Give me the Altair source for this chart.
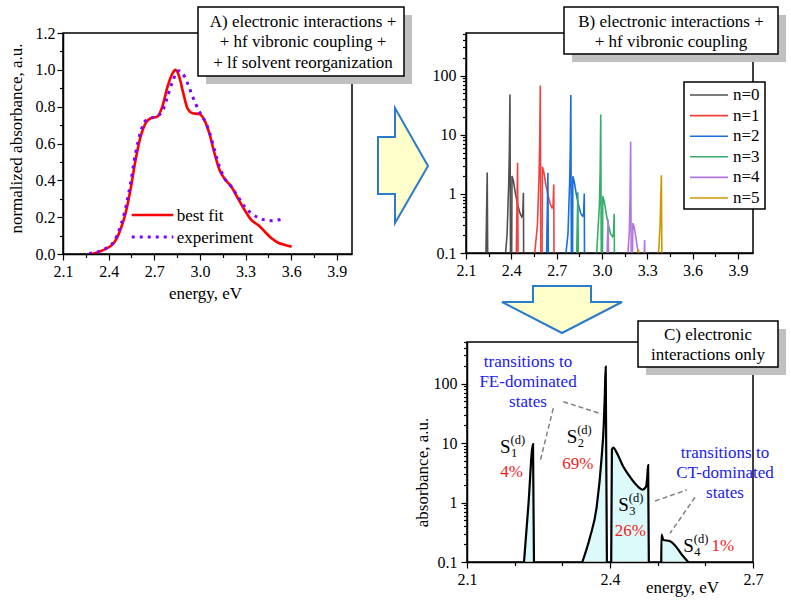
import altair as alt
import pandas as pd

FONT = "Liberation Serif"
W, H = 791, 605

# ---------------- Panel A: normalized absorbance ----------------
fit_E = [2.29, 2.367, 2.433, 2.477, 2.511, 2.544, 2.577, 2.610, 2.643, 2.676, 2.720, 2.753,
         2.787, 2.820, 2.840, 2.864, 2.886, 2.919, 2.952, 2.996, 3.029, 3.062, 3.096, 3.129,
         3.162, 3.206, 3.250, 3.294, 3.338, 3.383, 3.427, 3.471, 3.515, 3.559, 3.603]
fit_v = [0.0, 0.022, 0.058, 0.13, 0.22, 0.35, 0.51, 0.637, 0.71, 0.737, 0.746, 0.80,
         0.908, 0.981, 1.0, 0.963, 0.89, 0.79, 0.764, 0.76, 0.728, 0.655, 0.547, 0.456,
         0.41, 0.366, 0.302, 0.239, 0.185, 0.157, 0.121, 0.085, 0.061, 0.049, 0.04]
exp_E = [2.272, 2.367, 2.433, 2.477, 2.511, 2.544, 2.577, 2.610, 2.643, 2.676, 2.720, 2.753,
         2.787, 2.820, 2.842, 2.864, 2.886, 2.919, 2.952, 2.996, 3.029, 3.062, 3.096, 3.129,
         3.162, 3.206, 3.250, 3.294, 3.338, 3.383, 3.427, 3.471, 3.515, 3.537]
exp_v = [0.003, 0.025, 0.065, 0.148, 0.248, 0.384, 0.547, 0.664, 0.724, 0.737, 0.75, 0.774,
         0.855, 0.936, 0.977, 0.995, 0.981, 0.927, 0.855, 0.774, 0.728, 0.664, 0.565, 0.474,
         0.411, 0.366, 0.312, 0.257, 0.221, 0.198, 0.185, 0.181, 0.185, 0.189]

# ---------------- Panel B: vibronic progression (E, absorbance) ----------------
series_labels = ["n=0", "n=1", "n=2", "n=3", "n=4", "n=5"]
series_colors = ["#515151", "#F14040", "#1A6FDF", "#37AD6B", "#B177DE", "#CC9900"]
n0_segments = [
    [(2.232, 0.1), (2.2405, 2.3), (2.2435, 0.1)],
    [(2.362, 0.1), (2.372, 0.21), (2.3826, 1.45), (2.387, 5.2), (2.391, 48), (2.3945, 0.1)],
    [(2.4025, 0.1), (2.4045, 2.0), (2.414, 1.65), (2.428, 0.98), (2.442, 0.66), (2.456, 0.48),
     (2.4686, 0.41), (2.4755, 0.45), (2.480, 1.04), (2.4815, 0.1)],
]
n1_segments = [
    [(2.433, 0.1), (2.4415, 3.35), (2.4445, 0.1)],
    [(2.555, 0.1), (2.573, 0.3), (2.5836, 2.1), (2.588, 7.5), (2.592, 68), (2.5955, 0.1)],
    [(2.6035, 0.1), (2.6055, 2.87), (2.615, 2.35), (2.629, 1.4), (2.643, 0.95), (2.657, 0.68),
     (2.6696, 0.58), (2.6765, 0.64), (2.681, 1.44), (2.6825, 0.1)],
]
n2_segments = [
    [(2.634, 0.1), (2.642, 2.27), (2.645, 0.1)],
    [(2.762, 0.1), (2.775, 0.21), (2.7856, 1.4), (2.790, 5.0), (2.794, 47), (2.7975, 0.1)],
    [(2.8055, 0.1), (2.8075, 1.99), (2.817, 1.6), (2.831, 0.95), (2.845, 0.65), (2.859, 0.47),
     (2.8716, 0.42), (2.8785, 0.46), (2.883, 1.01), (2.8845, 0.1)],
]
n3_segments = [
    [(2.833, 0.1), (2.8405, 1.06), (2.8435, 0.1)],
    [(2.965, 0.1), (2.9836, 0.68), (2.988, 2.4), (2.990, 7.0), (2.992, 22), (2.9955, 0.1)],
    [(3.0035, 0.1), (3.0055, 0.91), (3.015, 0.75), (3.029, 0.45), (3.043, 0.3), (3.057, 0.21),
     (3.0696, 0.19), (3.0765, 0.21), (3.081, 0.46), (3.0825, 0.1)],
]
n4_segments = [
    [(3.034, 0.1), (3.0405, 0.37), (3.0435, 0.1)],
    [(3.172, 0.1), (3.1816, 0.24), (3.186, 0.85), (3.188, 2.5), (3.190, 7.7), (3.1935, 0.1)],
    [(3.2025, 0.1), (3.2045, 0.32), (3.214, 0.27), (3.228, 0.16), (3.24, 0.1)],
    [(3.280, 0.1), (3.2825, 0.165), (3.284, 0.1)],
]
n5_segments = [
    [(3.238, 0.1), (3.2415, 0.115), (3.2445, 0.1)],
    [(3.375, 0.1), (3.385, 0.3), (3.389, 0.8), (3.3935, 2.07), (3.3965, 0.1)],
]
all_b_segments = [n0_segments, n1_segments, n2_segments, n3_segments, n4_segments, n5_segments]

# ---------------- Panel C: electronic interactions only ----------------
c_segments = [
    [(2.2196, 0.1), (2.229, 0.95), (2.2385, 9.6), (2.2405, 0.1)],
    [(2.342, 0.1), (2.358, 0.26), (2.372, 0.84), (2.3826, 5.9), (2.387, 21), (2.389, 60),
     (2.391, 192), (2.3935, 0.1)],
    [(2.4025, 0.1), (2.404, 7.8), (2.407, 8.4), (2.414, 6.9), (2.428, 4.0), (2.442, 2.7),
     (2.456, 1.95), (2.4686, 1.65), (2.4755, 1.83), (2.478, 2.6), (2.480, 4.25), (2.4815, 0.1)],
    [(2.5075, 0.1), (2.508, 0.29), (2.512, 0.235), (2.525, 0.225), (2.5364, 0.19), (2.55, 0.135),
     (2.564, 0.1)],
]

# ticks
tickA_x = [2.1, 2.4, 2.7, 3.0, 3.3, 3.6, 3.9]
minorA_x = [2.25, 2.55, 2.85, 3.15, 3.45, 3.75]
tickA_y = [0.0, 0.2, 0.4, 0.6, 0.8, 1.0, 1.2]
minorA_y = [0.1, 0.3, 0.5, 0.7, 0.9, 1.1]
tick_log = [0.1, 1, 10, 100]
minor_log = [0.2, 0.3, 0.4, 0.5, 0.6, 0.7, 0.8, 0.9, 2, 3, 4, 5, 6, 7, 8, 9,
             20, 30, 40, 50, 60, 70, 80, 90, 200, 300, 400, 500]
tickC_x = [2.1, 2.4, 2.7]
minorC_x = [2.2, 2.3, 2.5, 2.6]

# ---------------- build tables ----------------
dfA_fit = pd.DataFrame({"E": fit_E, "v": fit_v})
dfA_exp = pd.DataFrame({"E": exp_E, "v": exp_v})

rows = []
for lab, segs in zip(series_labels, all_b_segments):
    for i, seg in enumerate(segs):
        for e, v in seg:
            rows.append({"E": e, "v": v, "n": lab, "seg": f"{lab}_{i}"})
dfB = pd.DataFrame(rows)

rows = []
for i, seg in enumerate(c_segments):
    for e, v in seg:
        rows.append({"E": e, "v": v, "base": 0.1, "seg": f"s{i}"})
dfC = pd.DataFrame(rows)


# ---------------- scales ----------------
def sc_xA(): return alt.Scale(domain=[2.1, 4.0], range=[63, 352], nice=False, zero=False)
def sc_yA(): return alt.Scale(domain=[0.0, 1.2], range=[254, 33], nice=False, zero=False)
def sc_xB(): return alt.Scale(domain=[2.1, 4.0], range=[466, 753], nice=False, zero=False)
def sc_yB(): return alt.Scale(type="log", domain=[0.1, 525], range=[253, 33], nice=False)
def sc_xC(): return alt.Scale(domain=[2.1, 2.7], range=[467, 753], nice=False, zero=False)
def sc_yC(): return alt.Scale(type="log", domain=[0.1, 500], range=[562, 342], nice=False)


def ax(orient, pos, values, major=True, fmt=".1f", title=None, tx=0, ty=0, pad=3.5):
    kw = dict(orient=orient, values=values, grid=False, zindex=1,
              tickColor="black", tickWidth=1.2, tickSize=6 if major else 3.5)
    kw["offset"] = (pos - H) if orient == "bottom" else -pos
    if major:
        kw.update(domain=True, domainColor="black", domainWidth=1.5, labels=True,
                  labelFont=FONT, labelFontSize=16, labelColor="black", labelPadding=pad,
                  labelFlush=False, labelOverlap=False, format=fmt)
    else:
        kw.update(domain=False, labels=False)
    if title:
        kw.update(title=title, titleFont=FONT, titleFontSize=17, titleFontWeight="normal",
                  titleColor="black", titleX=tx, titleY=ty, titleAlign="center",
                  titleBaseline="alphabetic", titleAngle=0 if orient == "bottom" else 270)
    else:
        kw["title"] = None
    return alt.Axis(**kw)


ONE = pd.DataFrame({"k": [0]})


def T(x, y, s, size=17, color="black", align="center", baseline="alphabetic"):
    return alt.Chart(ONE).mark_text(text=s, font=FONT, fontSize=size, color=color,
                                    align=align, baseline=baseline).encode(
        x=alt.value(x), y=alt.value(y))


def R(x1, y1, x2, y2, fill, stroke=None, sw=1.5):
    kw = dict(fill=fill, opacity=1)
    if stroke:
        kw.update(stroke=stroke, strokeWidth=sw)
    return alt.Chart(ONE).mark_rect(**kw).encode(
        x=alt.value(x1), x2=alt.value(x2), y=alt.value(y1), y2=alt.value(y2))


def L(x1, y1, x2, y2, color, sw, dash=None):
    kw = dict(color=color, strokeWidth=sw)
    if dash:
        kw["strokeDash"] = dash
    return alt.Chart(ONE).mark_rule(**kw).encode(
        x=alt.value(x1), y=alt.value(y1), x2=alt.value(x2), y2=alt.value(y2))


def ARROW(cx, cy, path, size):
    return alt.Chart(ONE).mark_point(shape=path, size=size, filled=True, fill="#ffffcc",
                                     stroke="#2b7bc9", strokeWidth=2, opacity=1).encode(
        x=alt.value(cx), y=alt.value(cy))


layers = []

# ---------- Panel A ----------
frameA = pd.DataFrame({"x0": [2.1], "x1": [4.0], "y0": [0.0], "y1": [1.2]})
layers.append(alt.Chart(frameA).mark_rect(fillOpacity=0, stroke="black", strokeWidth=1.5).encode(
    x=alt.X("x0:Q", scale=sc_xA(), axis=ax("bottom", 254, tickA_x, title="energy, eV", tx=205, ty=44)),
    x2="x1",
    y=alt.Y("y0:Q", scale=sc_yA(), axis=ax("left", 63, tickA_y, pad=2,
                                           title="normalized absorbance, a.u.", tx=-42, ty=138)),
    y2="y1"))
layers.append(alt.Chart(frameA).mark_point(opacity=0).encode(
    x=alt.X("x0:Q", scale=sc_xA(), axis=ax("bottom", 254, minorA_x, major=False)),
    y=alt.Y("y0:Q", scale=sc_yA(), axis=ax("left", 63, minorA_y, major=False))))
layers.append(alt.Chart(dfA_fit).mark_line(color="#ff0000", strokeWidth=2.6, interpolate="monotone").encode(
    x=alt.X("E:Q", scale=sc_xA(), axis=None), y=alt.Y("v:Q", scale=sc_yA(), axis=None)))
layers.append(alt.Chart(dfA_exp).mark_line(color="#8000ff", strokeWidth=3, strokeDash=[3, 5],
                                           interpolate="monotone").encode(
    x=alt.X("E:Q", scale=sc_xA(), axis=None), y=alt.Y("v:Q", scale=sc_yA(), axis=None)))
layers.append(L(131.7, 215, 173.3, 215, "#ff0000", 2.6))
layers.append(T(176.7, 221, "best fit", align="left"))
layers.append(L(131.7, 237, 173.3, 237, "#8000ff", 3, [3, 5]))
layers.append(T(176.7, 242.5, "experiment", align="left"))

# ---------- Panel B ----------
frameB = pd.DataFrame({"x0": [2.1], "x1": [4.0], "y0": [0.1], "y1": [525]})
layers.append(alt.Chart(frameB).mark_rect(fillOpacity=0, stroke="black", strokeWidth=1.5).encode(
    x=alt.X("x0:Q", scale=sc_xB(), axis=ax("bottom", 253, tickA_x)),
    x2="x1",
    y=alt.Y("y0:Q", scale=sc_yB(), axis=ax("left", 466, tick_log, fmt="~g", pad=4)),
    y2="y1"))
layers.append(alt.Chart(frameB).mark_point(opacity=0).encode(
    x=alt.X("x0:Q", scale=sc_xB(), axis=ax("bottom", 253, minorA_x, major=False)),
    y=alt.Y("y0:Q", scale=sc_yB(), axis=ax("left", 466, minor_log, major=False))))
layers.append(alt.Chart(dfB).mark_line(strokeWidth=1.6).encode(
    x=alt.X("E:Q", scale=sc_xB(), axis=None),
    y=alt.Y("v:Q", scale=sc_yB(), axis=None),
    color=alt.Color("n:N", scale=alt.Scale(domain=series_labels, range=series_colors), legend=None),
    detail="seg:N"))

# ---------- Panel C ----------
frameC = pd.DataFrame({"x0": [2.1], "x1": [2.7], "y0": [0.1], "y1": [500]})
layers.append(alt.Chart(frameC).mark_rect(fillOpacity=0, stroke="black", strokeWidth=1.5).encode(
    x=alt.X("x0:Q", scale=sc_xC(), axis=ax("bottom", 562, tickC_x, title="energy, eV", tx=682, ty=30)),
    x2="x1",
    y=alt.Y("y0:Q", scale=sc_yC(), axis=ax("left", 467, tick_log, fmt="~g", pad=4,
                                           title="absorbance, a.u.", tx=-40, ty=472)),
    y2="y1"))
layers.append(alt.Chart(frameC).mark_point(opacity=0).encode(
    x=alt.X("x0:Q", scale=sc_xC(), axis=ax("bottom", 562, minorC_x, major=False)),
    y=alt.Y("y0:Q", scale=sc_yC(), axis=ax("left", 467, minor_log, major=False))))
layers.append(alt.Chart(dfC).mark_area(color="#dcfafa", opacity=1, interpolate="monotone").encode(
    x=alt.X("E:Q", scale=sc_xC(), axis=None),
    y=alt.Y("v:Q", scale=sc_yC(), axis=None, stack=False),
    y2="base:Q",
    detail="seg:N"))
layers.append(alt.Chart(dfC).mark_line(color="black", strokeWidth=2.2, interpolate="monotone").encode(
    x=alt.X("E:Q", scale=sc_xC(), axis=None),
    y=alt.Y("v:Q", scale=sc_yC(), axis=None),
    detail="seg:N"))

# annotations in C
for a, b, c, d in [(553.3, 408.3, 540, 461.7), (563.3, 401.7, 601.7, 414),
                   (655, 501, 686.7, 490), (695, 497.3, 670, 533.3)]:
    layers.append(L(a, b, c, d, "#808080", 1.5, [5, 3]))
BLUE = "#2020f0"
RED = "#f01c1c"
for i, s in enumerate(["transitions to", "FE-dominated", "states"]):
    layers.append(T(528, 366.5 + 20 * i, s, color=BLUE))
for i, s in enumerate(["transitions to", "CT-dominated", "states"]):
    layers.append(T(725, 458.3 + 20 * i, s, color=BLUE))
for sx, sy, sub in [(500, 453, "1"), (566.7, 443, "2"), (618.3, 510.7, "3"), (683.3, 551.7, "4")]:
    layers.append(T(sx, sy, "S", size=19, align="left"))
    layers.append(T(sx + 11, sy + 3.8, sub, size=12.5, align="left"))
    layers.append(T(sx + 10.5, sy - 8.7, "(d)", size=12.5, align="left"))
for px, py, s in [(511.7, 477, "4%"), (577.8, 469, "69%"), (630.3, 535.5, "26%"), (722.8, 550.5, "1%")]:
    layers.append(T(px, py, s, color=RED))

# ---------- title boxes ----------
layers.append(R(206, 15, 412, 84, "#c0c0c0"))
layers.append(R(198, 7, 404, 76, "white", "black", 1.5))
for i, s in enumerate(["A) electronic interactions +", "+ hf vibronic coupling +",
                       "+ lf solvent reorganization"]):
    layers.append(T(303, 26.5 + 20.7 * i, s))
layers.append(R(572, 15, 786, 62, "#c0c0c0"))
layers.append(R(564, 7, 778, 54, "white", "black", 1.5))
for i, s in enumerate(["B) electronic interactions +", "+ hf vibronic coupling"]):
    layers.append(T(671, 26.7 + 20.7 * i, s))
layers.append(R(646, 329, 786, 375, "#c0c0c0"))
layers.append(R(638, 321, 778, 367, "white", "black", 1.5))
for i, s in enumerate(["C) electronic", "interactions only"]):
    layers.append(T(708, 339.5 + 20.7 * i, s))

# ---------- legend B ----------
layers.append(R(684, 82, 765, 209, "white", "black", 1.5))
legdf = pd.DataFrame({"n": series_labels})
leg_y = alt.Y("n:N", scale=alt.Scale(type="point", domain=series_labels, range=[95, 198], padding=0),
              axis=None)
layers.append(alt.Chart(legdf).mark_rule(strokeWidth=1.6).encode(
    x=alt.value(690), x2=alt.value(728), y=leg_y,
    color=alt.Color("n:N", scale=alt.Scale(domain=series_labels, range=series_colors), legend=None)))
layers.append(alt.Chart(legdf).mark_text(font=FONT, fontSize=17, align="left", baseline="middle",
                                         color="black").encode(
    x=alt.value(733), y=leg_y, text="n:N"))

# ---------- arrows ----------
right_path = "M-0.4348,-0.4957L-0.1391,-0.4957L-0.1391,-1L0.4348,0.0087L-0.1391,1L-0.1391,0.4957L-0.4348,0.4957Z"
down_path = "M-0.4833,-0.3917L0.4833,-0.3917L0.4833,-0.125L1,-0.125L0,0.3917L-1,-0.125L-0.4833,-0.125Z"
layers.append(ARROW(403, 165.5, right_path, 13225))
layers.append(ARROW(562, 309.5, down_path, 14400))

chart = alt.layer(*layers).resolve_scale(
    x="independent", y="independent", color="independent"
).properties(
    width=W, height=H, padding=0, autosize=alt.AutoSizeParams(type="none"),
    background="white"
).configure_view(stroke="transparent")

chart.save("out.html", embed_options={"renderer": "svg", "actions": False})
